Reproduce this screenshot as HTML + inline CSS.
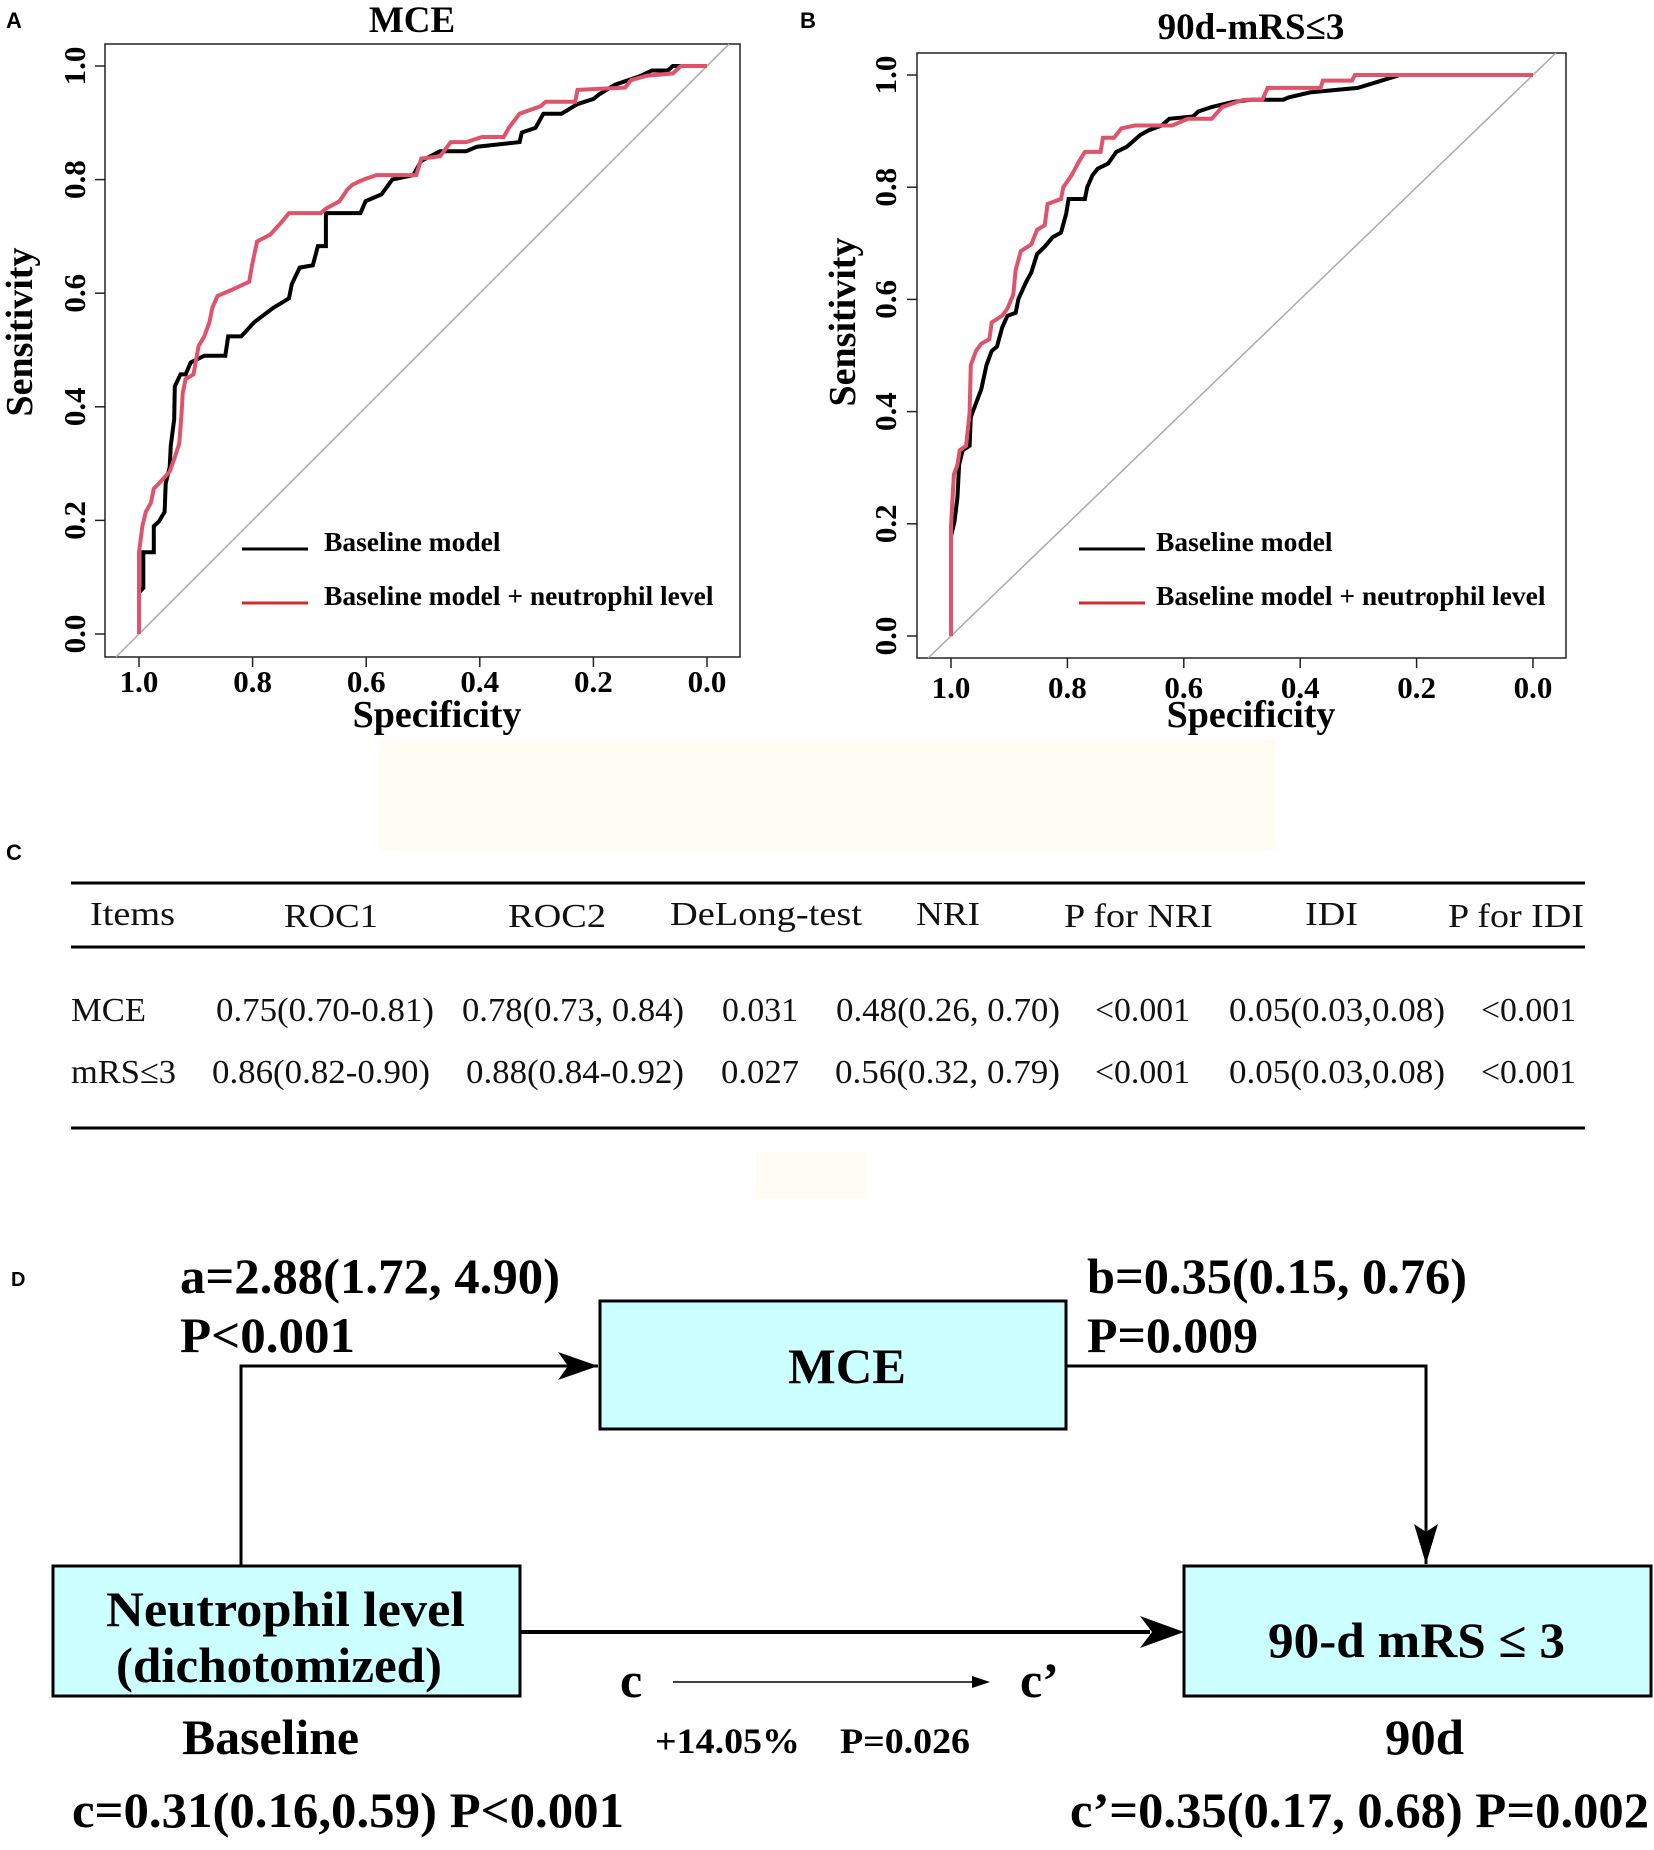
<!DOCTYPE html>
<html><head><meta charset="utf-8"><style>
html,body{margin:0;padding:0;background:#fff;}
svg{display:block;}
.serif{font-family:"Liberation Serif",serif;}
.sans{font-family:"Liberation Sans",sans-serif;}
</style></head>
<body>
<svg id="fig" width="1654" height="1850" viewBox="0 0 1654 1850" xmlns="http://www.w3.org/2000/svg">
<rect x="379" y="740" width="896" height="110" fill="#fffcf3"/>
<rect x="756" y="1152" width="110" height="47" fill="#fffcf3"/>
<text x="6" y="28" class="sans" font-weight="bold" font-size="22">A</text>
<text x="800" y="28" class="sans" font-weight="bold" font-size="22">B</text>
<text x="6" y="860" class="sans" font-weight="bold" font-size="22">C</text>
<text x="11" y="1286" class="sans" font-weight="bold" font-size="20">D</text>
<g id="panelA"></g>
<g id="panelB"></g>

<!-- Table C -->
<g class="serif" font-size="34" fill="#111">
<line x1="71" y1="883" x2="1585" y2="883" stroke="#000" stroke-width="3"/>
<line x1="71" y1="947" x2="1585" y2="947" stroke="#000" stroke-width="3"/>
<line x1="71" y1="1128" x2="1585" y2="1128" stroke="#000" stroke-width="3"/>
<g lengthAdjust="spacingAndGlyphs">
<text x="90" y="925" textLength="85" lengthAdjust="spacingAndGlyphs">Items</text>
<text x="284" y="927" textLength="94" lengthAdjust="spacingAndGlyphs">ROC1</text>
<text x="508" y="927" textLength="98" lengthAdjust="spacingAndGlyphs">ROC2</text>
<text x="670" y="925" textLength="192" lengthAdjust="spacingAndGlyphs">DeLong-test</text>
<text x="916" y="925" textLength="64" lengthAdjust="spacingAndGlyphs">NRI</text>
<text x="1064" y="927" textLength="149" lengthAdjust="spacingAndGlyphs">P for NRI</text>
<text x="1305" y="925" textLength="53" lengthAdjust="spacingAndGlyphs">IDI</text>
<text x="1448" y="927" textLength="136" lengthAdjust="spacingAndGlyphs">P for IDI</text>
</g>
<g>
<text x="71" y="1021" textLength="75" lengthAdjust="spacingAndGlyphs">MCE</text>
<text x="216" y="1021" textLength="218" lengthAdjust="spacingAndGlyphs">0.75(0.70-0.81)</text>
<text x="462" y="1021" textLength="222" lengthAdjust="spacingAndGlyphs">0.78(0.73, 0.84)</text>
<text x="722" y="1021" textLength="76" lengthAdjust="spacingAndGlyphs">0.031</text>
<text x="836" y="1021" textLength="224" lengthAdjust="spacingAndGlyphs">0.48(0.26, 0.70)</text>
<text x="1095" y="1021" textLength="95" lengthAdjust="spacingAndGlyphs">&lt;0.001</text>
<text x="1229" y="1021" textLength="216" lengthAdjust="spacingAndGlyphs">0.05(0.03,0.08)</text>
<text x="1481" y="1021" textLength="95" lengthAdjust="spacingAndGlyphs">&lt;0.001</text>
</g>
<g>
<text x="71" y="1083" textLength="105" lengthAdjust="spacingAndGlyphs">mRS≤3</text>
<text x="212" y="1083" textLength="218" lengthAdjust="spacingAndGlyphs">0.86(0.82-0.90)</text>
<text x="466" y="1083" textLength="218" lengthAdjust="spacingAndGlyphs">0.88(0.84-0.92)</text>
<text x="721" y="1083" textLength="78" lengthAdjust="spacingAndGlyphs">0.027</text>
<text x="835" y="1083" textLength="225" lengthAdjust="spacingAndGlyphs">0.56(0.32, 0.79)</text>
<text x="1095" y="1083" textLength="95" lengthAdjust="spacingAndGlyphs">&lt;0.001</text>
<text x="1229" y="1083" textLength="216" lengthAdjust="spacingAndGlyphs">0.05(0.03,0.08)</text>
<text x="1481" y="1083" textLength="95" lengthAdjust="spacingAndGlyphs">&lt;0.001</text>
</g>
</g>

<!-- Diagram D -->
<g class="serif" font-weight="bold" fill="#000">
<polyline points="241,1566 241,1366 598,1366" fill="none" stroke="#000" stroke-width="3"/>
<path d="M558,1352 L598,1366 L558,1380 L568,1366 Z" fill="#000"/>
<polyline points="1066,1366 1426,1366 1426,1564" fill="none" stroke="#000" stroke-width="3"/>
<path d="M1414,1524 L1426,1564 L1438,1524 L1426,1532 Z" fill="#000"/>
<line x1="520" y1="1632" x2="1150" y2="1632" stroke="#000" stroke-width="4"/>
<path d="M1140,1616 L1184,1632 L1140,1648 L1152,1632 Z" fill="#000"/>
<line x1="673" y1="1682" x2="975" y2="1682" stroke="#000" stroke-width="1.5"/>
<path d="M972,1676 L990,1682 L972,1688 Z" fill="#000"/>
<rect x="600" y="1301" width="466" height="128" fill="#ccffff" stroke="#000" stroke-width="3"/>
<rect x="53" y="1566" width="467" height="130" fill="#ccffff" stroke="#000" stroke-width="3"/>
<rect x="1184" y="1566" width="467" height="130" fill="#ccffff" stroke="#000" stroke-width="3"/>
<text x="788" y="1383" font-size="50" textLength="118" lengthAdjust="spacingAndGlyphs">MCE</text>
<text x="106" y="1626" font-size="50" textLength="359" lengthAdjust="spacingAndGlyphs">Neutrophil  level</text>
<text x="116" y="1682" font-size="50" textLength="326" lengthAdjust="spacingAndGlyphs">(dichotomized)</text>
<text x="1268" y="1657" font-size="50" textLength="297" lengthAdjust="spacingAndGlyphs">90-d mRS ≤ 3</text>
<text x="180" y="1293" font-size="50" textLength="380" lengthAdjust="spacingAndGlyphs">a=2.88(1.72, 4.90)</text>
<text x="180" y="1352" font-size="50" textLength="175" lengthAdjust="spacingAndGlyphs">P&lt;0.001</text>
<text x="1087" y="1293" font-size="50" textLength="380" lengthAdjust="spacingAndGlyphs">b=0.35(0.15, 0.76)</text>
<text x="1087" y="1352" font-size="50" textLength="171" lengthAdjust="spacingAndGlyphs">P=0.009</text>
<text x="620" y="1697" font-size="50">c</text>
<text x="1020" y="1697" font-size="50">c’</text>
<text x="182" y="1754" font-size="50" textLength="177" lengthAdjust="spacingAndGlyphs">Baseline</text>
<text x="655" y="1753" font-size="36" textLength="145" lengthAdjust="spacingAndGlyphs">+14.05%</text>
<text x="840" y="1753" font-size="36" textLength="130" lengthAdjust="spacingAndGlyphs">P=0.026</text>
<text x="1385" y="1754" font-size="50" textLength="79" lengthAdjust="spacingAndGlyphs">90d</text>
<text x="72" y="1827" font-size="50" textLength="552" lengthAdjust="spacingAndGlyphs">c=0.31(0.16,0.59) P&lt;0.001</text>
<text x="1070" y="1827" font-size="50" textLength="579" lengthAdjust="spacingAndGlyphs">c’=0.35(0.17, 0.68) P=0.002</text>
</g>
</svg>
<script>
// Panel A (MCE) data: specificity / sensitivity
const aBaseSpec = [1,1,.9925,.9925,.974,.974,.965,.955,.953,.946,.944,.938,.937,.927,.918,.909,.885,.848,.843,.820,.797,.764,.736,.731,.717,.694,.685,.671,.671,.610,.601,.573,.554,.517,.503,.470,.424,.405,.330,.326,.302,.288,.256,.228,.200,.190,.162,.116,.097,.069,.060,0];
const aBaseSens = [0,.073,.081,.144,.144,.190,.198,.215,.265,.294,.332,.378,.436,.457,.457,.478,.490,.490,.524,.524,.549,.574,.591,.616,.645,.649,.683,.683,.741,.741,.762,.774,.800,.808,.833,.850,.850,.858,.866,.883,.891,.916,.916,.933,.942,.950,.967,.983,.992,.992,1,1];
const aNeuSpec = [1,1,.994,.988,.979,.974,.965,.946,.937,.929,.925,.923,.918,.904,.895,.885,.876,.871,.862,.834,.806,.801,.792,.769,.750,.736,.680,.671,.647,.633,.624,.605,.582,.512,.503,.470,.451,.424,.396,.358,.349,.330,.293,.284,.232,.228,.144,.134,.106,.060,.046,0];
const aNeuSens = [0,.144,.190,.215,.231,.256,.265,.286,.311,.336,.390,.424,.449,.457,.507,.524,.549,.574,.595,.607,.620,.649,.691,.703,.724,.741,.741,.749,.762,.783,.791,.800,.808,.808,.837,.841,.866,.866,.875,.875,.891,.916,.929,.937,.937,.958,.962,.975,.983,.987,1,1];
// Panel B (90d-mRS<=3) data
const bBaseSpec = [1,1,.994,.989,.986,.980,.968,.966,.957,.948,.939,.930,.921,.912,.903,.889,.884,.871,.862,.852,.839,.825,.811,.802,.798,.770,.766,.757,.748,.730,.716,.698,.689,.675,.661,.638,.625,.584,.575,.552,.515,.484,.429,.420,.383,.301,.260,.229,0];
const bBaseSens = [0,.178,.204,.246,.305,.331,.339,.390,.415,.440,.483,.508,.516,.550,.571,.576,.601,.631,.648,.681,.694,.711,.719,.753,.779,.779,.800,.821,.833,.842,.863,.872,.880,.893,.901,.910,.922,.926,.935,.943,.952,.956,.956,.960,.969,.977,.990,1,1];
const bNeuSpec = [1,1,.995,.989,.985,.974,.968,.966,.957,.948,.934,.930,.912,.903,.893,.889,.880,.862,.852,.839,.834,.811,.807,.793,.780,.770,.743,.739,.720,.707,.684,.620,.593,.552,.534,.497,.465,.456,.365,.361,.311,.306,0];
const bNeuSens = [0,.195,.288,.305,.331,.339,.398,.483,.508,.521,.529,.559,.571,.584,.609,.652,.686,.698,.724,.732,.770,.779,.800,.821,.846,.863,.863,.888,.888,.905,.910,.910,.922,.922,.943,.956,.956,.977,.977,.990,.990,1,1];
const tickVals = [1.0,0.8,0.6,0.4,0.2,0.0];
const tickLabels = ["1.0","0.8","0.6","0.4","0.2","0.0"];
const legendLabels = ["Baseline model","Baseline model  + neutrophil level"];

const NS = "http://www.w3.org/2000/svg";
function mk(tag, attrs, parent){
  const e = document.createElementNS(NS, tag);
  for (const k in attrs) e.setAttribute(k, attrs[k]);
  parent.appendChild(e);
  return e;
}
function drawPanel(g, cfg){
  const xS = s => cfg.x1 + (1 - s) * (cfg.x0 - cfg.x1);
  const yS = v => cfg.y0 + v * (cfg.y1 - cfg.y0);
  const box = mk('rect', {x:cfg.bx0, y:cfg.by0, width:cfg.bx1-cfg.bx0, height:cfg.by1-cfg.by0, fill:'none', stroke:'#222', 'stroke-width':1.5}, g);
  
  
  const sAtLeft = 1 - (cfg.bx0 - cfg.x1)/(cfg.x0 - cfg.x1);
  const sAtRight = 1 - (cfg.bx1 - cfg.x1)/(cfg.x0 - cfg.x1);
  let p1 = [cfg.bx0, yS(1 - sAtLeft)], p2 = [cfg.bx1, yS(1 - sAtRight)];
  const clipY = (p, q) => {
    const yy = Math.min(Math.max(p[1], cfg.by0), cfg.by1);
    if (yy !== p[1]) { const t = (yy - p[1])/(q[1]-p[1]); return [p[0] + t*(q[0]-p[0]), yy]; }
    return p;
  };
  const a = clipY(p1, p2), b = clipY(p2, p1);
  const diag = mk('line', {x1:a[0], y1:a[1], x2:b[0], y2:b[1], stroke:'#aaa', 'stroke-width':1.5}, g);
  
  
  tickVals.forEach((v, i) => {
    const tx = xS(v);
    const t = mk('line', {x1:tx, y1:cfg.by1, x2:tx, y2:cfg.by1+10, stroke:'#222', 'stroke-width':1.5}, g);
    
    
    const l = mk('text', {x:tx, y:cfg.xLabY, 'text-anchor':'middle', 'font-size':31, 'font-weight':'bold', 'font-family':'Liberation Serif, serif'}, g);
    l.textContent = tickLabels[i];
    
    
    const ty = yS(v);
    const t2 = mk('line', {x1:cfg.bx0-10, y1:ty, x2:cfg.bx0, y2:ty, stroke:'#222', 'stroke-width':1.5}, g);
    
    
    const l2 = mk('text', {x:0, y:0, 'text-anchor':'middle', 'font-size':31, 'font-weight':'bold', 'font-family':'Liberation Serif, serif', transform:`translate(${cfg.yLabX},${ty}) rotate(-90)`}, g);
    l2.textContent = tickLabels[i];
    
    
  });
  const series = [[cfg.bs, cfg.bv, '#000', 'roc-curve-baseline'], [cfg.ns, cfg.nv, '#df536b', 'roc-curve-neutrophil']];
  series.forEach(sr => {
    const pts = sr[0].map((s, i) => xS(s).toFixed(1) + ',' + yS(sr[1][i]).toFixed(1)).join(' ');
    const pl = mk('polyline', {points:pts, fill:'none', stroke:sr[2], 'stroke-width':4, 'stroke-linejoin':'miter'}, g);
    
    
  });
  const lg = mk('g', {}, g);
  
  
  const lc = ['#000', '#d42a2a'];
  [549, 603].forEach((ly, i) => {
    const ln = mk('line', {x1:cfg.lgx0, y1:ly, x2:cfg.lgx0+66, y2:ly, stroke:lc[i], 'stroke-width':3}, lg);
    
    
    const tx = mk('text', {x:cfg.lgtx, y:ly+2, 'font-size':27.5, 'font-weight':'bold', 'font-family':'Liberation Serif, serif'}, lg);
    tx.textContent = legendLabels[i];
    
    
  });
  const tt = mk('text', {x:cfg.titleX, y:cfg.titleY, 'text-anchor':'middle', 'font-size':37, 'font-weight':'bold', 'font-family':'Liberation Serif, serif'}, g);
  tt.textContent = cfg.title;
  
  
  const xt = mk('text', {x:cfg.xTitleX, y:cfg.xTitleY, 'text-anchor':'middle', 'font-size':38, 'font-weight':'bold', 'font-family':'Liberation Serif, serif'}, g);
  xt.textContent = 'Specificity';
  
  
  const yt = mk('text', {x:0, y:0, 'text-anchor':'middle', 'font-size':38, 'font-weight':'bold', 'font-family':'Liberation Serif, serif', transform:`translate(${cfg.yTitleX},${cfg.yTitleY}) rotate(-90)`}, g);
  yt.textContent = 'Sensitivity';
  
  
}
drawPanel(document.getElementById('panelA'), {
  bx0:105, by0:44, bx1:740, by1:657, x1:139, x0:707, y0:634, y1:66,
  xLabY:692, yLabX:85, lgx0:242, lgtx:324, title:'MCE', titleX:412, titleY:32,
  xTitleX:437, xTitleY:727, yTitleX:32, yTitleY:332,
  bs:aBaseSpec, bv:aBaseSens, ns:aNeuSpec, nv:aNeuSens
});
drawPanel(document.getElementById('panelB'), {
  bx0:917, by0:53, bx1:1566, by1:658, x1:951, x0:1533, y0:636, y1:75,
  xLabY:698, yLabX:896, lgx0:1079, lgtx:1156, title:'90d-mRS≤3', titleX:1251, titleY:39,
  xTitleX:1251, xTitleY:727, yTitleX:855, yTitleY:322,
  bs:bBaseSpec, bv:bBaseSens, ns:bNeuSpec, nv:bNeuSens
});
</script>
</body></html>
